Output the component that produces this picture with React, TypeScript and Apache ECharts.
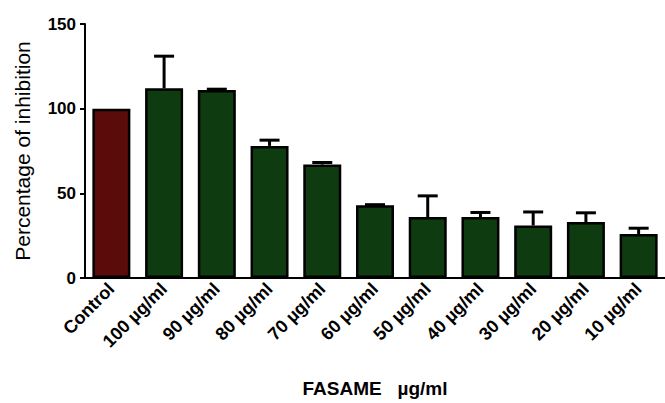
import React, { useEffect, useRef } from "react";
import * as echarts from "echarts";

const categories = ["Control", "100 µg/ml", "90 µg/ml", "80 µg/ml", "70 µg/ml", "60 µg/ml", "50 µg/ml", "40 µg/ml", "30 µg/ml", "20 µg/ml", "10 µg/ml"];
const means = [100, 112, 111, 78, 67, 43, 36, 36, 31, 33, 26];
const errors = [0, 19, 0.5, 3.4, 1.2, 0.3, 12.5, 2.7, 8, 5.5, 3.4];
const yTicks = { min: 0, max: 150, interval: 50 };

const RED = "#5c0b0b";
const GREEN = "#0e3b10";

export default function App() {
  const ref = useRef<HTMLDivElement>(null);
  useEffect(() => {
    const chart = echarts.init(ref.current!, null, { renderer: "svg" });
    chart.setOption({
      animation: false,
      grid: { left: 85, width: 581, top: 24, bottom: 123, containLabel: false },
      xAxis: {
        type: "category",
        data: categories,
        name: "FASAME   µg/ml",
        nameLocation: "middle",
        nameGap: 101,
        nameTextStyle: { fontFamily: "Liberation Sans", fontWeight: "bold", fontSize: 19, color: "#000" },
        axisLine: { lineStyle: { color: "#000", width: 2 } },
        axisTick: { alignWithLabel: true, length: 6, lineStyle: { color: "#000", width: 2 } },
        axisLabel: { rotate: 45, interval: 0, margin: 8, fontFamily: "Liberation Sans", fontWeight: "bold", fontSize: 18, color: "#000" },
      },
      yAxis: {
        type: "value",
        min: yTicks.min,
        max: yTicks.max,
        interval: yTicks.interval,
        name: "Percentage of inhibition",
        nameLocation: "middle",
        nameGap: 52,
        nameTextStyle: { fontFamily: "Liberation Sans", fontSize: 21, color: "#000" },
        splitLine: { show: false },
        axisLine: { show: true, lineStyle: { color: "#000", width: 2 } },
        axisTick: { show: true, length: 5, lineStyle: { color: "#000", width: 2 } },
        axisLabel: { margin: 9, fontFamily: "Liberation Sans", fontWeight: "bold", fontSize: 17, color: "#000" },
      },
      series: [
        {
          type: "bar",
          barWidth: 38,
          data: means.map((v, i) => ({
            value: v,
            itemStyle: { color: i === 0 ? RED : GREEN, borderColor: "#000", borderWidth: 2.5 },
          })),
          z: 2,
        },
        {
          type: "custom",
          z: 3,
          data: means.map((v, i) => [i, v, errors[i]]),
          renderItem: (params: any, api: any) => {
            const i = api.value(0);
            const v = api.value(1);
            const e = api.value(2);
            const p0 = api.coord([i, v]);
            const p1 = api.coord([i, v + e]);
            const hw = 10;
            if (e <= 0) return { type: "group", children: [] };
            return {
              type: "group",
              children: [
                { type: "line", shape: { x1: p0[0], y1: p0[1], x2: p1[0], y2: p1[1] }, style: { stroke: "#000", lineWidth: 3 } },
                { type: "line", shape: { x1: p1[0] - hw, y1: p1[1], x2: p1[0] + hw, y2: p1[1] }, style: { stroke: "#000", lineWidth: 3 } },
              ],
            };
          },
        },
      ],
    });
    return () => chart.dispose();
  }, []);
  return <div ref={ref} style={{ width: 665, height: 403, position: "absolute", left: 0, top: 0, background: "#fff" }} />;
}
